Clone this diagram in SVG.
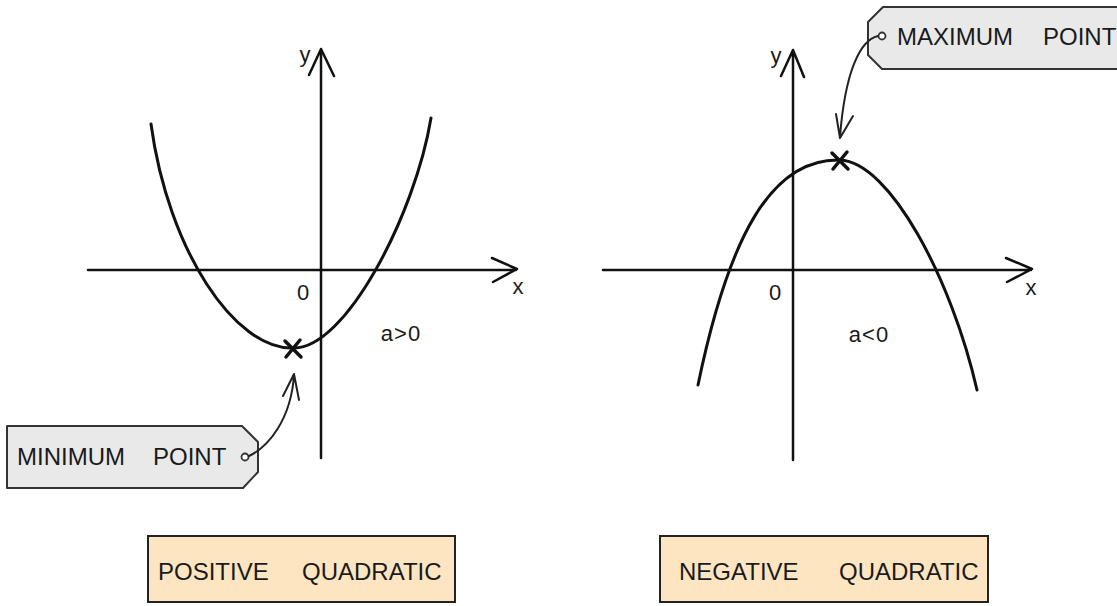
<svg xmlns="http://www.w3.org/2000/svg" width="1117" height="606" viewBox="0 0 1117 606">
<style>
.axis{fill:none;stroke:#111;stroke-width:2.5;stroke-linecap:round;stroke-linejoin:round}
.curve{fill:none;stroke:#111;stroke-width:3;stroke-linecap:round}
.mark{fill:none;stroke:#111;stroke-width:3.5;stroke-linecap:round}
.conn{fill:none;stroke:#222;stroke-width:2;stroke-linecap:round;stroke-linejoin:round}
.tag{fill:#E9E9E9;stroke:#333;stroke-width:2;stroke-linejoin:round}
.box{fill:#FDE5C1;stroke:#222;stroke-width:2}
.lbl{font-family:"Liberation Sans",Arial,sans-serif;font-size:24px;fill:#1a1a1a}
.ax{font-family:"Liberation Sans",Arial,sans-serif;font-size:22px;fill:#1a1a1a}
.hole{fill:#fff;stroke:#333;stroke-width:1.8}
</style>
<rect width="1117" height="606" fill="#fff"/>

<g id="positive-graph">
  <path class="axis" d="M88,270 L516,270 M492,258 L517,269 L493,282"/>
  <path class="axis" d="M321,458 L321,49 M309,75 L321,49 L334,76"/>
  <text class="ax" x="305" y="62" text-anchor="middle">y</text>
  <text class="ax" x="518" y="294" text-anchor="middle">x</text>
  <text class="ax" x="303" y="300" text-anchor="middle">0</text>
  <text class="ax" x="401" y="341" text-anchor="middle" letter-spacing="1">a&gt;0</text>
  <path class="curve" d="M151,124 C168,250 235,350 293,348 C345,350 415,215 431,118"/>
  <path class="mark" d="M285,341 L301,357 M300,340 L286,357"/>
</g>

<g id="negative-graph">
  <path class="axis" d="M603,270 L1031,270 M1006,258 L1032,269 L1007,282"/>
  <path class="axis" d="M793,460 L793,50 M781,76 L793,50 L804,77"/>
  <text class="ax" x="776" y="63" text-anchor="middle">y</text>
  <text class="ax" x="1031" y="295" text-anchor="middle">x</text>
  <text class="ax" x="775" y="300" text-anchor="middle">0</text>
  <text class="ax" x="869" y="342" text-anchor="middle" letter-spacing="1">a&lt;0</text>
  <path class="curve" d="M698,385 C728,240 770,158 840,160 C890,162 952,280 977,390"/>
  <path class="mark" d="M832,153 L848,169 M847,152 L833,169"/>
</g>

<g id="minimum-tag">
  <path class="tag" d="M7,426 L242,426 L258,442 L258,472 L243,488 L7,488 Z"/>
  <circle class="hole" cx="245" cy="457" r="3.5"/>
  <text class="lbl" x="17" y="465">MINIMUM</text>
  <text class="lbl" x="153" y="465">POINT</text>
</g>

<g id="maximum-tag">
  <path class="tag" d="M1120,7 L883,7 L868,22 L868,55 L882,69 L1120,69 Z"/>
  <circle class="hole" cx="882" cy="36" r="3.5"/>
  <text class="lbl" x="897" y="45">MAXIMUM</text>
  <text class="lbl" x="1043" y="45">POINT</text>
</g>

<g id="positive-box">
  <rect class="box" x="148" y="536" width="307" height="66"/>
  <text class="lbl" x="158" y="580">POSITIVE</text>
  <text class="lbl" x="302" y="580">QUADRATIC</text>
</g>

<g id="negative-box">
  <rect class="box" x="660" y="536" width="328" height="66"/>
  <text class="lbl" x="679" y="580">NEGATIVE</text>
  <text class="lbl" x="839" y="580">QUADRATIC</text>
</g>

<g id="connectors">
  <path class="conn" d="M249,456 C268,447 291,420 294,375 M283,396 L294,374 L299,400"/>
  <path class="conn" d="M878,36 C860,40 845,72 840,137 M836,114 L840,138 L853,116"/>
</g>
</svg>
